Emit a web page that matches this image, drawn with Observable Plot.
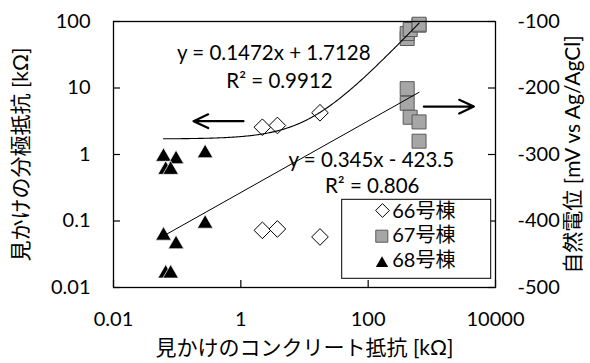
<!DOCTYPE html>
<html>
<head>
<meta charset="utf-8">
<script src="https://cdn.jsdelivr.net/npm/d3@7"></script>
<script src="https://cdn.jsdelivr.net/npm/@observablehq/plot@0.6"></script>
<style>
  body { margin: 0; background: #fff; }
  #chart { width: 590px; height: 363px; }
</style>
</head>
<body>
<div id="chart"></div>
<script>
// Apparent concrete resistance [kΩ] of each measured point, by building
const b66Concrete = [2.18, 3.75, 17.5];
const b67Concrete = [410, 410, 457, 630, 630];
const b68Concrete = [0.061, 0.096, 0.275, 0.066, 0.079];

// Apparent polarization resistance [kΩ] (left axis)
const b66Polar = [2.57, 2.73, 4.24];
const b67Polar = [55.5, 66, 75.8, 88, 91];
const b68Polar = [0.99, 0.91, 1.12, 0.63, 0.63];

// Half-cell potential [mV vs Ag/AgCl] (right axis)
const b66Potential = [-414, -412, -424];
const b67Potential = [-201, -223, -244, -251, -280];
const b68Potential = [-419, -432, -401, -476, -476];

// Trend lines
const polarFit = { slope: 0.1472, intercept: 1.7128 };   // y = 0.1472x + 1.7128
const potentialFitX = [0.061, 630];
const potentialFitY = [-422.5, -206.5];

// Axis ticks
const xTicks = [0.01, 1, 100, 10000];
const xTickLabels = ["0.01", "1", "100", "10000"];
const yTicks = [0.01, 0.1, 1, 10, 100];
const yTickLabels = ["0.01", "0.1", "1", "10", "100"];
const potTicks = [-500, -400, -300, -200, -100];
const potTickLabels = ["-500", "-400", "-300", "-200", "-100"];

const legendNames = ["66号棟", "67号棟", "68号棟"];

// The right axis (-500 … -100 mV) shares the plot height with the left
// log axis (0.01 … 100 kΩ): 100 mV per decade.
const toLeft = v => 10 ** ((v + 300) / 100);

const font = "Lato, 'Noto Sans CJK JP', sans-serif";

const rows = (cs, vs, conv = d => d) => cs.map((c, i) => ({ c, v: conv(vs[i]) }));
const upper66 = rows(b66Concrete, b66Polar);
const upper67 = rows(b67Concrete, b67Polar);
const upper68 = rows(b68Concrete, b68Polar);
const lower66 = rows(b66Concrete, b66Potential, toLeft);
const lower67 = rows(b67Concrete, b67Potential, toLeft);
const lower68 = rows(b68Concrete, b68Potential, toLeft);

// Linear fit of polarization resistance evaluated across the concrete-resistance range
const xmin = potentialFitX[0], xmax = potentialFitX[1];
const polarCurve = d3.range(0, 241).map(i => {
  const x = xmin * (xmax / xmin) ** (i / 240);
  return { c: x, v: polarFit.slope * x + polarFit.intercept };
});
const potentialLine = potentialFitX.map((c, i) => ({ c, v: toLeft(potentialFitY[i]) }));

const diamond = { symbol: "diamond2", r: 7.5, fill: "white", stroke: "black", strokeWidth: 1 };
const square = { symbol: "square", r: 7.9, fill: "#a6a6a6", stroke: "#5a5a5a", strokeWidth: 1 };
const triangle = { symbol: "triangle", r: 5.8, fill: "black", stroke: "white", strokeWidth: 0.7, dy: 2 };

const legendBox = (index, scales, values, dims) => {
  const x0 = dims.marginLeft, y0 = dims.marginTop;
  return d3.create("svg:rect")
    .attr("x", x0 + 228.7).attr("y", y0 + 178.3)
    .attr("width", 149).attr("height", 79)
    .attr("fill", "white").attr("stroke", "black").attr("stroke-width", 1)
    .node();
};

const note = (text, dx, dy, extra = {}) =>
  Plot.text([text], {
    frameAnchor: "top-left", dx, dy, textAnchor: "middle", lineAnchor: "middle",
    fontSize: 20.5, fill: "black", ...extra
  });

const chart = Plot.plot({
  width: 590,
  height: 363,
  marginLeft: 113,
  marginRight: 95,
  marginTop: 21,
  marginBottom: 76,
  x: { type: "log", domain: [0.01, 10000] },
  y: { type: "log", domain: [0.01, 100] },
  style: { fontFamily: font, fontSize: "20px", color: "#000", background: "#fff" },
  marks: [
    // data points
    Plot.dot(upper66, { x: "c", y: "v", ...diamond }),
    Plot.dot(lower66, { x: "c", y: "v", ...diamond }),
    Plot.dot(upper67, { x: "c", y: "v", ...square }),
    Plot.dot(lower67, { x: "c", y: "v", ...square }),
    Plot.dot(upper68, { x: "c", y: "v", ...triangle }),
    Plot.dot(lower68, { x: "c", y: "v", ...triangle }),

    // trend lines
    Plot.line(polarCurve, { x: "c", y: "v", stroke: "black", strokeWidth: 1.1 }),
    Plot.line(potentialLine, { x: "c", y: "v", stroke: "black", strokeWidth: 1 }),

    // frame and inward ticks
    Plot.frame({ stroke: "black", strokeWidth: 1.3 }),
    Plot.tickY(yTicks, { y: d => d, insetRight: 375, stroke: "black", strokeWidth: 1.2 }),
    Plot.tickY(potTicks, { y: toLeft, insetLeft: 375, stroke: "black", strokeWidth: 1.2 }),
    Plot.tickX(xTicks, { x: d => d, insetTop: 259, stroke: "black", strokeWidth: 1.2 }),

    // tick labels
    Plot.axisX(xTicks, {
      tickSize: 0, tickPadding: 24, fontSize: 20, label: null,
      tickFormat: d => xTickLabels[xTicks.indexOf(d)]
    }),
    Plot.axisY(yTicks, {
      anchor: "left", tickSize: 0, tickPadding: 23, fontSize: 20, label: null,
      tickFormat: d => yTickLabels[yTicks.indexOf(d)]
    }),
    Plot.axisY(potTicks.map(toLeft), {
      anchor: "right", tickSize: 0, tickPadding: 22, fontSize: 20, label: null,
      tickFormat: (d) => potTickLabels[potTicks.findIndex(p => Math.abs(toLeft(p) - d) < 1e-9)]
    }),

    // axis titles
    Plot.text(["見かけのコンクリート抵抗 [kΩ]"], {
      frameAnchor: "bottom", dy: 61, textAnchor: "middle", lineAnchor: "middle", fontSize: 21, fill: "black"
    }),
    Plot.text(["見かけの分極抵抗 [kΩ]"], {
      frameAnchor: "left", dx: -92, rotate: -90, textAnchor: "middle", lineAnchor: "middle", fontSize: 21, fill: "black"
    }),
    Plot.text(["自然電位 [mV vs Ag/AgCl]"], {
      frameAnchor: "right", dx: 78, rotate: -90, textAnchor: "middle", lineAnchor: "middle", fontSize: 21, fill: "black"
    }),

    // fit equations
    note("y = 0.1472x + 1.7128", 160.3, 32),
    note("R² = 0.9912", 166, 60),
    note("y = 0.345x - 423.5", 257.8, 138.7),
    note("R² = 0.806", 258.7, 165),

    // arrows pointing to the axis each group belongs to
    Plot.arrow([0], { x1: 1.1, x2: 0.181, y1: 3.17, y2: 3.17, stroke: "black", strokeWidth: 2.2, headLength: 11, headAngle: 50 }),
    Plot.arrow([0], { x1: 748, x2: 4570, y1: toLeft(-228), y2: toLeft(-228), stroke: "black", strokeWidth: 2.2, headLength: 11, headAngle: 50 }),

    // legend
    legendBox,
    Plot.dot([0], { frameAnchor: "top-left", dx: 269, dy: 189, symbol: "diamond2", r: 6.2, fill: "white", stroke: "black", strokeWidth: 1 }),
    Plot.dot([0], { frameAnchor: "top-left", dx: 268.3, dy: 214.7, symbol: "square", r: 6.8, fill: "#a6a6a6", stroke: "#5a5a5a", strokeWidth: 1 }),
    Plot.dot([0], { frameAnchor: "top-left", dx: 268.5, dy: 242, symbol: "triangle", r: 4.6, fill: "black" }),
    ...legendNames.map((name, i) =>
      Plot.text([name], {
        frameAnchor: "top-left", dx: 278.7, dy: [189.7, 214, 239][i],
        textAnchor: "start", lineAnchor: "middle", fontSize: 20, fill: "black"
      })
    )
  ]
});

document.getElementById("chart").append(chart);
</script>
</body>
</html>
